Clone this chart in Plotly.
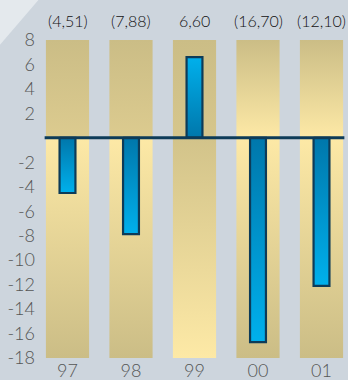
import plotly.graph_objects as go

categories = ["97", "98", "99", "00", "01"]
values = [-4.51, -7.88, 6.60, -16.70, -12.10]
labels = ["(4,51)", "(7,88)", "6,60", "(16,70)", "(12,10)"]
y_ticks = [8, 6, 4, 2, -2, -4, -6, -8, -10, -12, -14, -16, -18]
y_min, y_max = -18, 8

TAN = "#cbbd86"
LIGHT = "#fde9a6"
MID = "#dccb8f"
# gradient colours for each column band: (top of upper part, bottom of upper part, top of lower part, bottom of lower part)
band_styles = [
    (TAN, MID, LIGHT, TAN),
    (TAN, MID, LIGHT, TAN),
    (TAN, "#d6c68c", "#d2c38a", LIGHT),
    (TAN, LIGHT, LIGHT, TAN),
    (TAN, LIGHT, LIGHT, TAN),
]
BAND_W = 0.68
BAR_W = 0.25
DARK_BLUE = "#0077ab"
BRIGHT_BLUE = "#00b0ec"
OUTLINE = "#0d3b58"
FONT = "Lato"

fig = go.Figure()

for i, st in enumerate(band_styles):
    x0, x1 = i - BAND_W / 2, i + BAND_W / 2
    fig.add_trace(go.Scatter(
        x=[x0, x1, x1, x0, x0], y=[0, 0, y_max, y_max, 0], mode="lines",
        line=dict(width=0), fill="toself",
        fillgradient=dict(type="vertical", start=0, stop=y_max,
                          colorscale=[[0, st[1]], [1, st[0]]]),
        hoverinfo="skip", showlegend=False))
    fig.add_trace(go.Scatter(
        x=[x0, x1, x1, x0, x0], y=[y_min, y_min, 0, 0, y_min], mode="lines",
        line=dict(width=0), fill="toself",
        fillgradient=dict(type="vertical", start=y_min, stop=0,
                          colorscale=[[0, st[3]], [1, st[2]]]),
        hoverinfo="skip", showlegend=False))

for i, v in enumerate(values):
    x0, x1 = i - BAR_W / 2, i + BAR_W / 2
    lo, hi = min(0, v), max(0, v)
    if v < 0:
        cs = [[0, BRIGHT_BLUE], [1, DARK_BLUE]]
    else:
        cs = [[0, DARK_BLUE], [1, BRIGHT_BLUE]]
    fig.add_trace(go.Scatter(
        x=[x0, x1, x1, x0, x0], y=[0, 0, v, v, 0], mode="lines",
        line=dict(width=2.2, color=OUTLINE), fill="toself",
        fillgradient=dict(type="vertical", start=lo, stop=hi, colorscale=cs),
        hoverinfo="skip", showlegend=False))

fig.add_shape(type="line", xref="x", yref="y",
              x0=-BAND_W / 2 - 0.02, x1=len(categories) - 1 + BAND_W / 2 + 0.02,
              y0=0, y1=0, line=dict(color=OUTLINE, width=3), layer="above")

fig.add_shape(type="path", xref="paper", yref="paper",
              path="M -0.14 1.14 L -0.005 1.126 L -0.13 0.985 Z",
              fillcolor="#e4e9ed", line=dict(width=0), layer="below")

for i, t in enumerate(labels):
    fig.add_annotation(x=i, xref="x", y=1, yref="paper", yanchor="middle",
                       yshift=20, text=t, showarrow=False,
                       font=dict(size=16, color="#111111", family=FONT, weight=300))

fig.update_layout(
    width=348, height=380,
    margin=dict(l=40, r=0, t=40, b=22),
    paper_bgcolor="#cdd5dd", plot_bgcolor="rgba(0,0,0,0)",
    font=dict(family=FONT, color="#555555", weight=300),
    xaxis=dict(range=[(40 - 67.5) / 63.5, (348 - 67.5) / 63.5],
               tickvals=list(range(len(categories))), ticktext=categories,
               showgrid=False, zeroline=False, showline=False, automargin=False,
               tickfont=dict(size=18, color="#555555", family=FONT, weight=300),
               ticklabelstandoff=0),
    yaxis=dict(range=[y_min, y_max], tickvals=y_ticks,
               ticktext=[str(t) for t in y_ticks],
               showgrid=False, zeroline=False, showline=False, automargin=False,
               tickfont=dict(size=18, color="#555555", family=FONT, weight=300),
               ticklabelstandoff=4),
)

fig.write_html("out.html")
